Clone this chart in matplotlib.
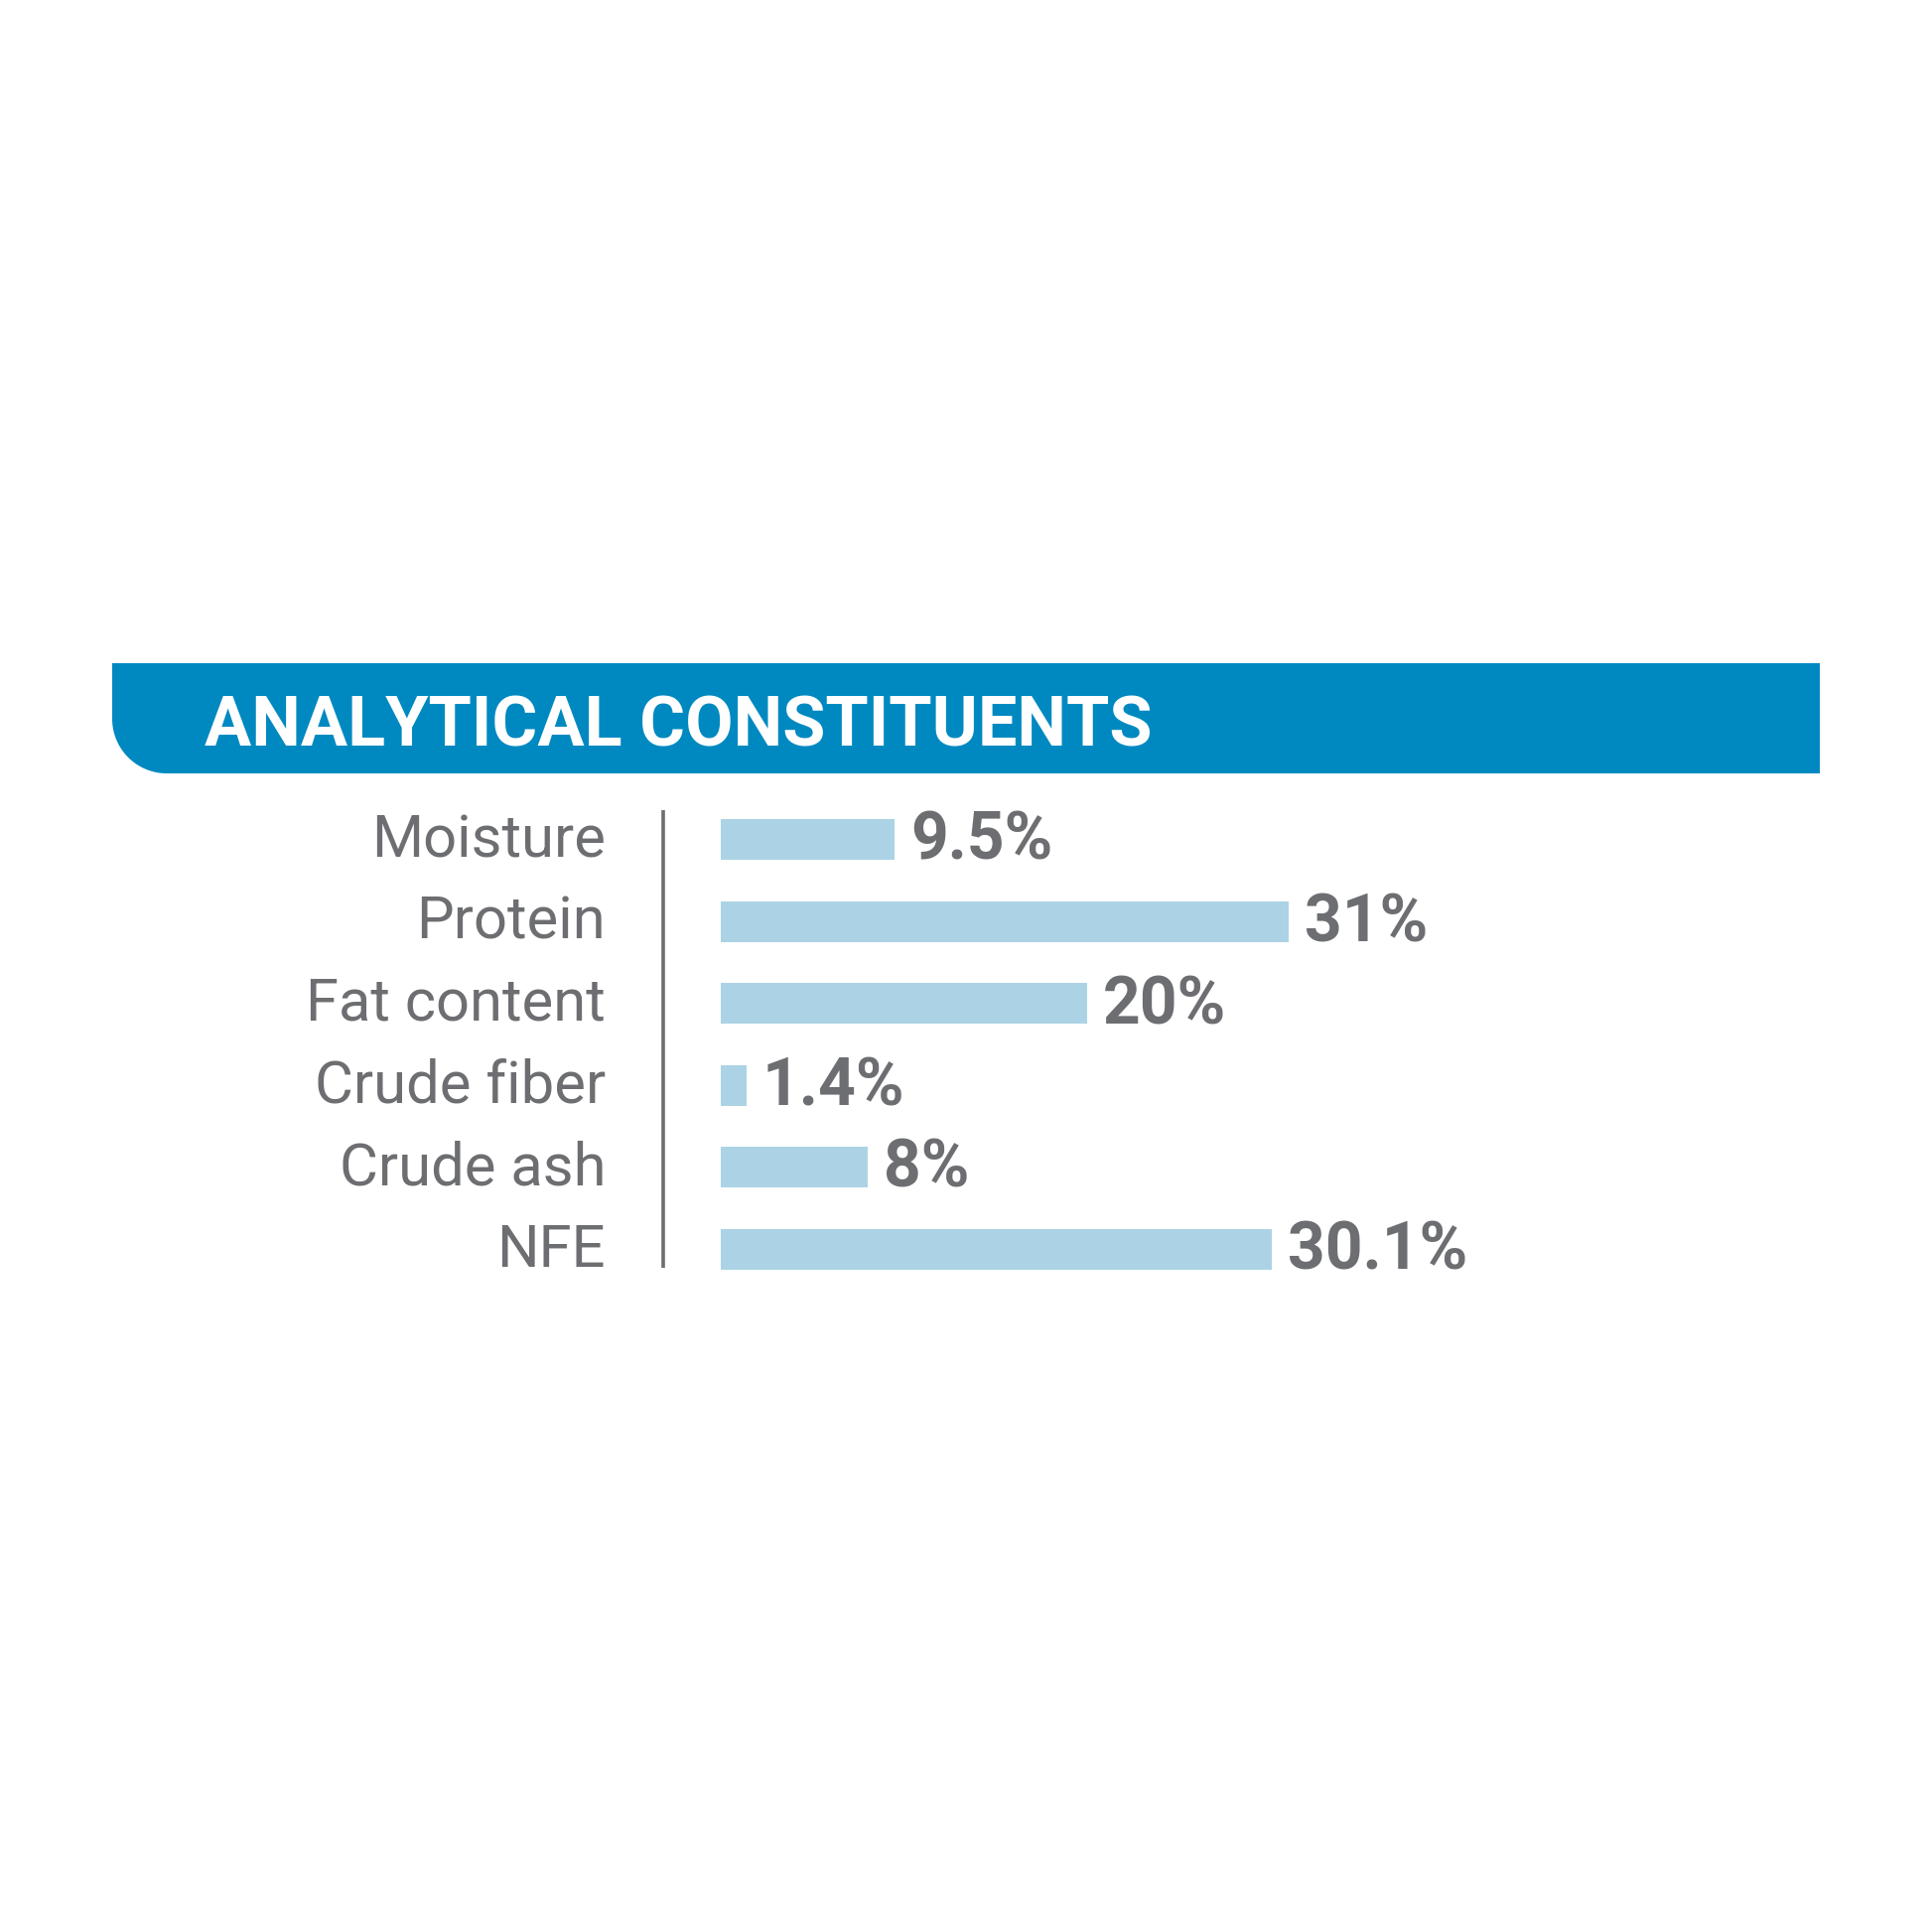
import numpy as np
import matplotlib
matplotlib.use("Agg")
import matplotlib.pyplot as plt
from matplotlib.patches import PathPatch
from matplotlib.path import Path
from matplotlib.lines import Line2D

# ---- data ----
title = "ANALYTICAL CONSTITUENTS"
categories = ["Moisture", "Protein", "Fat content", "Crude fiber", "Crude ash", "NFE"]
values = [9.5, 31, 20, 1.4, 8, 30.1]

# ---- style ----
W = H = 1946
DPI = 100
PT = DPI / 72.0
HEADER_COLOR = "#0089c0"
BAR_COLOR = "#acd3e5"
GRAY = "#6d6e71"
FONT = ["Roboto", "DejaVu Sans"]

fig = plt.figure(figsize=(W / DPI, H / DPI), dpi=DPI)
fig.patch.set_facecolor("white")

# overlay axes in pixel coordinates for decoration
ov = fig.add_axes([0, 0, 1, 1])
ov.set_xlim(0, W)
ov.set_ylim(H, 0)
ov.axis("off")

# header band with rounded bottom-left corner
x0, x1, y0, y1, r = 113, 1833, 668, 779, 55
cx, cy = x0 + r, y1 - r
t = np.linspace(0, np.pi / 2, 40)
arc = np.column_stack([cx - r * np.sin(t), cy + r * np.cos(t)])
verts = np.vstack([[[x0, y0], [x1, y0], [x1, y1]], arc, [[x0, y0]]])
codes = [Path.MOVETO] + [Path.LINETO] * (len(verts) - 2) + [Path.CLOSEPOLY]
ov.add_patch(PathPatch(Path(verts, codes), facecolor=HEADER_COLOR, edgecolor="none"))
ov.text(206, 751, title, color="white", fontsize=50.5, fontweight="bold",
        family=FONT, ha="left", va="baseline")

# vertical divider line
ov.add_line(Line2D([668, 668], [816, 1277], color=GRAY, lw=2.6, solid_capstyle="butt"))

# bar axes: px per unit, 82.5 px per category
bar_left = 726
px_per_unit = 18.45
xmax = 60
step = 82.5
c0 = 845.5
top = c0 - step / 2
height = step * len(categories)
ax = fig.add_axes([bar_left / W, 1 - (top + height) / H, xmax * px_per_unit / W, height / H])
ax.set_xlim(0, xmax)
ax.set_ylim(len(categories) - 0.5, -0.5)
ax.axis("off")

ypos = np.arange(len(categories))
ax.barh(ypos, values, height=41 / step, color=BAR_COLOR, edgecolor="none")

for i, (cat, v) in enumerate(zip(categories, values)):
    ax.annotate(cat, xy=(0, i), xycoords=("axes fraction", "data"),
                xytext=(-(bar_left - 610) / PT, -17.5 / PT), textcoords="offset points",
                ha="right", va="baseline", fontsize=43, color=GRAY, family=FONT)
    ax.annotate(f"{v:g}%", xy=(v, i), xycoords="data",
                xytext=(16 / PT, -20.5 / PT), textcoords="offset points",
                ha="left", va="baseline", fontsize=47.5, fontweight="bold",
                color=GRAY, family=FONT)

fig.savefig("out.png", dpi=DPI, facecolor="white")
